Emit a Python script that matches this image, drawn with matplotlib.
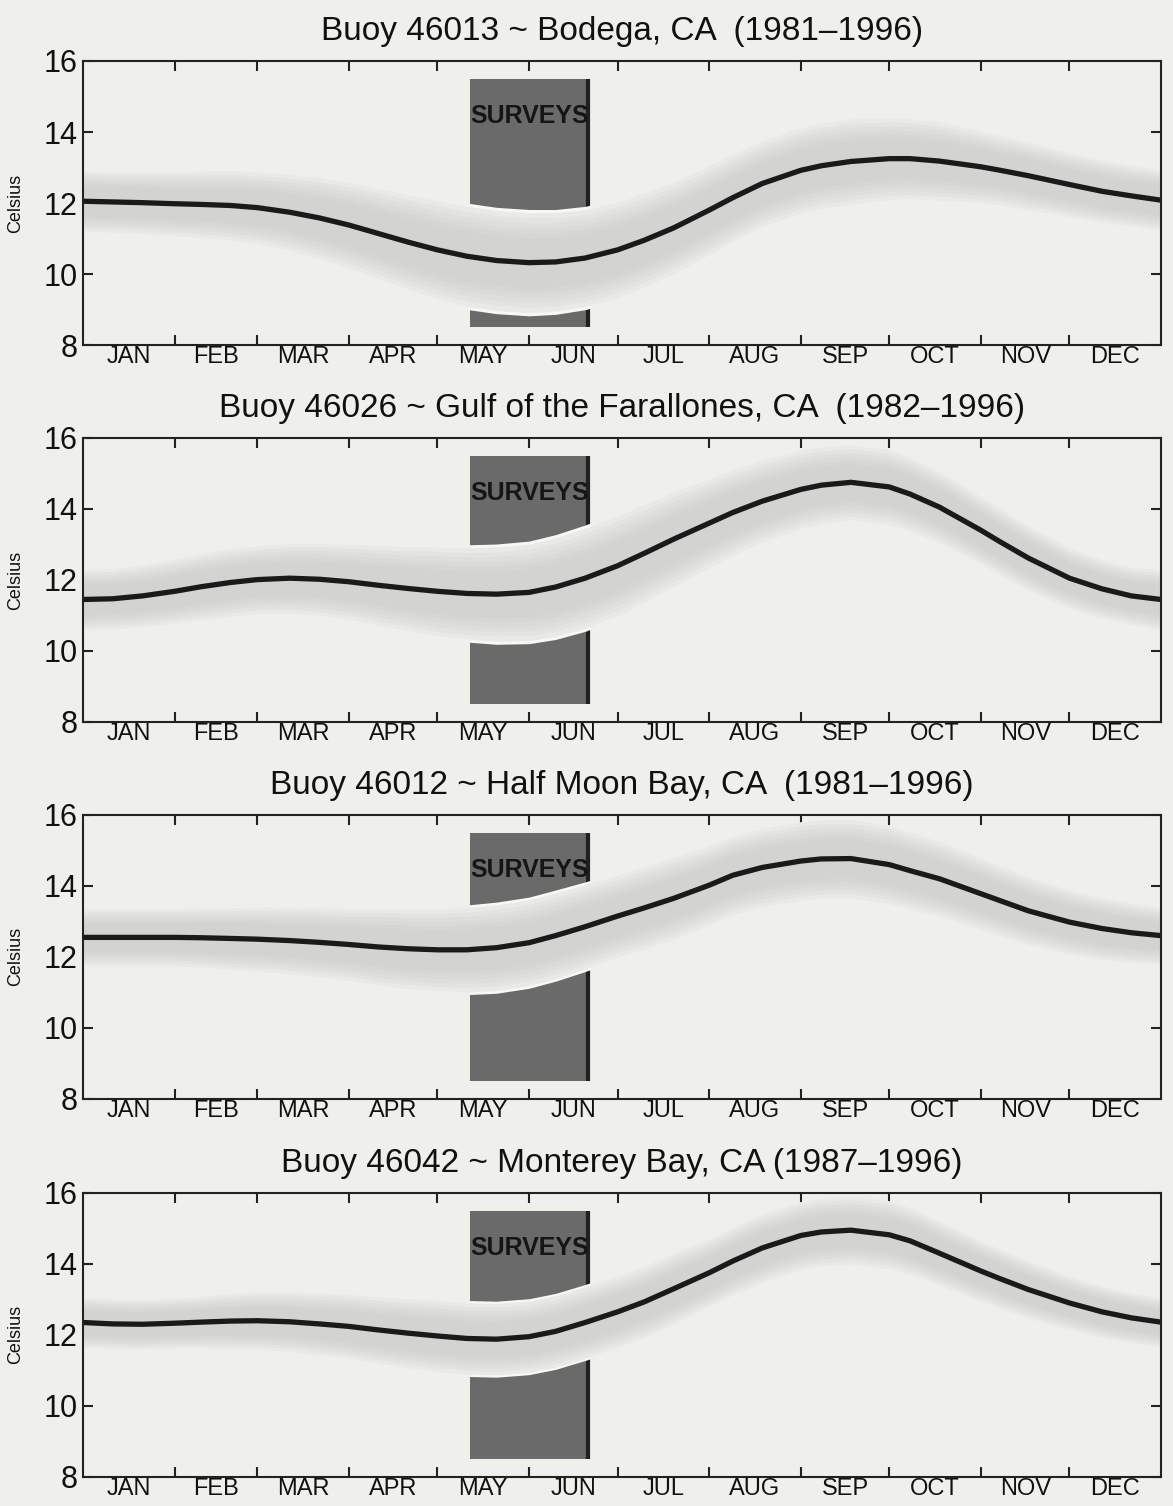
import numpy as np
import matplotlib.pyplot as plt
from matplotlib.patches import Rectangle

plt.rcParams['font.family'] = ['Liberation Sans', 'DejaVu Sans']

# titles of the four buoys
titles = [
    "Buoy 46013 ~ Bodega, CA  (1981\u20131996)",
    "Buoy 46026 ~ Gulf of the Farallones, CA  (1982\u20131996)",
    "Buoy 46012 ~ Half Moon Bay, CA  (1981\u20131996)",
    "Buoy 46042 ~ Monterey Bay, CA (1987\u20131996)",
]

months = ['JAN', 'FEB', 'MAR', 'APR', 'MAY', 'JUN',
          'JUL', 'AUG', 'SEP', 'OCT', 'NOV', 'DEC']
month_start = [0, 31, 59, 90, 120, 151, 181, 212, 243, 273, 304, 334, 365]

# day of year of the read values
days = [0, 10, 20, 31, 40, 50, 59, 70, 80, 90, 100, 110, 120, 130, 140, 151,
        160, 170, 181, 190, 200, 212, 220, 230, 243, 250, 260, 273, 280, 290,
        304, 310, 320, 334, 345, 355, 365]

# mean sea temperature (Celsius)
temp_bodega = [12.05, 12.03, 12.01, 11.98, 11.96, 11.93, 11.87, 11.74, 11.58,
               11.38, 11.14, 10.9, 10.68, 10.5, 10.38, 10.32, 10.34, 10.45,
               10.68, 10.95, 11.3, 11.8, 12.15, 12.55, 12.92, 13.05, 13.17,
               13.25, 13.25, 13.18, 13.02, 12.93, 12.77, 12.52, 12.33, 12.2, 12.08]
temp_farallones = [11.45, 11.47, 11.55, 11.68, 11.81, 11.93, 12.01, 12.05, 12.02,
                   11.95, 11.85, 11.76, 11.68, 11.62, 11.6, 11.65, 11.8, 12.05,
                   12.4, 12.75, 13.15, 13.6, 13.9, 14.22, 14.55, 14.67, 14.75,
                   14.62, 14.42, 14.05, 13.4, 13.1, 12.62, 12.05, 11.75, 11.55, 11.45]
temp_halfmoon = [12.55, 12.55, 12.55, 12.55, 12.54, 12.52, 12.5, 12.46, 12.41,
                 12.35, 12.28, 12.23, 12.2, 12.2, 12.26, 12.4, 12.6, 12.85,
                 13.15, 13.38, 13.65, 14.02, 14.3, 14.52, 14.7, 14.76, 14.77,
                 14.6, 14.43, 14.2, 13.78, 13.6, 13.3, 12.98, 12.8, 12.68, 12.6]
temp_monterey = [12.35, 12.31, 12.3, 12.33, 12.36, 12.39, 12.4, 12.37, 12.31,
                 12.24, 12.14, 12.05, 11.97, 11.9, 11.88, 11.95, 12.1, 12.35,
                 12.65, 12.93, 13.3, 13.75, 14.08, 14.45, 14.8, 14.9, 14.95,
                 14.82, 14.65, 14.3, 13.8, 13.6, 13.28, 12.9, 12.65, 12.48, 12.36]

# half width of the grey band (Celsius)
spread_bodega = [0.85, 0.85, 0.87, 0.9, 0.93, 0.97, 1.0, 1.07, 1.14, 1.2, 1.27,
                 1.33, 1.38, 1.4, 1.4, 1.4, 1.38, 1.36, 1.34, 1.32, 1.28, 1.25,
                 1.22, 1.2, 1.2, 1.2, 1.2, 1.15, 1.13, 1.1, 1.0, 0.97, 0.95, 0.9,
                 0.87, 0.85, 0.85]
spread_farallones = [0.85, 0.85, 0.87, 0.9, 0.93, 0.95, 0.95, 0.98, 1.02, 1.05, 1.12,
                     1.18, 1.25, 1.28, 1.32, 1.35, 1.38, 1.4, 1.4, 1.37, 1.33, 1.25,
                     1.2, 1.15, 1.1, 1.08, 1.05, 1.05, 1.03, 1.0, 0.95, 0.93, 0.9,
                     0.85, 0.82, 0.8, 0.85]
spread_halfmoon = [0.8, 0.8, 0.8, 0.8, 0.83, 0.87, 0.9, 0.93, 0.97, 1.0, 1.07,
                   1.12, 1.15, 1.18, 1.2, 1.2, 1.2, 1.18, 1.15, 1.15, 1.15, 1.1,
                   1.1, 1.1, 1.1, 1.1, 1.1, 1.1, 1.08, 1.05, 1.0, 0.98, 0.95, 0.9,
                   0.87, 0.83, 0.8]
spread_monterey = [0.7, 0.7, 0.7, 0.7, 0.73, 0.77, 0.8, 0.83, 0.87, 0.9, 0.93,
                   0.97, 1.0, 1.0, 1.0, 1.0, 1.0, 1.0, 1.0, 1.0, 1.0, 0.95, 0.95,
                   0.95, 0.95, 0.95, 0.95, 0.95, 0.93, 0.9, 0.85, 0.83, 0.8, 0.75,
                   0.72, 0.7, 0.7]

temps = [temp_bodega, temp_farallones, temp_halfmoon, temp_monterey]
spreads = [spread_bodega, spread_farallones, spread_halfmoon, spread_monterey]

# survey period box
survey_start, survey_end = 131, 171.5
survey_lo, survey_hi = 8.5, 15.5

bg = '#efefeb'
fig = plt.figure(figsize=(11.73, 15.06), dpi=100, facecolor=bg)
bottoms = [0.7709, 0.5206, 0.2703, 0.0193]

mid_month = [(a + b) / 2 for a, b in zip(month_start[:-1], month_start[1:])]

for title, t, s, b in zip(titles, temps, spreads, bottoms):
    ax = fig.add_axes([0.0708, b, 0.919, 0.1886], facecolor=bg)
    d = np.array(days)
    t = np.array(t)
    s = np.array(s)

    rect = Rectangle((survey_start, survey_lo), survey_end - survey_start,
                     survey_hi - survey_lo, facecolor='#6a6a6a', lw=0, zorder=1)
    ax.add_patch(rect)
    ax.vlines(survey_end - 0.6, survey_lo, survey_hi, color='#202020', lw=3, zorder=1.1)
    txt = ax.text(survey_start, 14.45, 'SURVEYS', fontsize=18, fontweight='bold',
                  color='#151515', ha='left', va='center', zorder=1.2)
    txt.set_clip_path(rect)

    # light halo cut through the box, then the soft grey band
    halo = ax.fill_between(d, t - 1.07 * s, t + 1.07 * s, color='#f7f7f5',
                           lw=0, zorder=2)
    halo.set_clip_path(rect)
    ax.fill_between(d, t - 1.01 * s, t + 1.01 * s, color=bg, lw=0, zorder=2.1)
    for f in [1.0, 0.9, 0.8, 0.7, 0.6, 0.5]:
        ax.fill_between(d, t - f * s, t + f * s, color='#c2c2c2', alpha=0.13,
                        lw=0, zorder=3)

    ax.plot(d, t, color='#1a1a1a', lw=3.8, zorder=4, solid_joinstyle='round')

    ax.set_xlim(0, 365)
    ax.set_ylim(8, 16)
    ax.set_xticks(month_start[1:-1])
    ax.set_xticklabels([])
    ax.set_xticks(mid_month, minor=True)
    ax.set_xticklabels(months, minor=True, fontsize=17)
    ax.set_yticks([8, 10, 12, 14, 16])
    ax.tick_params(axis='x', which='major', direction='in', length=7, width=1.5,
                   top=True, bottom=True, color='#222222')
    ax.tick_params(axis='x', which='minor', length=0, pad=1, labelcolor='#111111')
    ax.tick_params(axis='y', direction='in', length=7, width=1.5, left=True,
                   right=True, labelsize=22, pad=4, color='#222222',
                   labelcolor='#111111')
    for sp in ax.spines.values():
        sp.set_linewidth(1.5)
        sp.set_color('#222222')
        sp.set_zorder(5)

    ax.set_ylabel('Celsius', fontsize=13, color='#111111')
    ax.yaxis.set_label_coords(-0.055, 0.5)
    ax.set_title(title, fontsize=24, pad=15, color='#111111')

fig.savefig('out.png', dpi=100, facecolor=bg)
